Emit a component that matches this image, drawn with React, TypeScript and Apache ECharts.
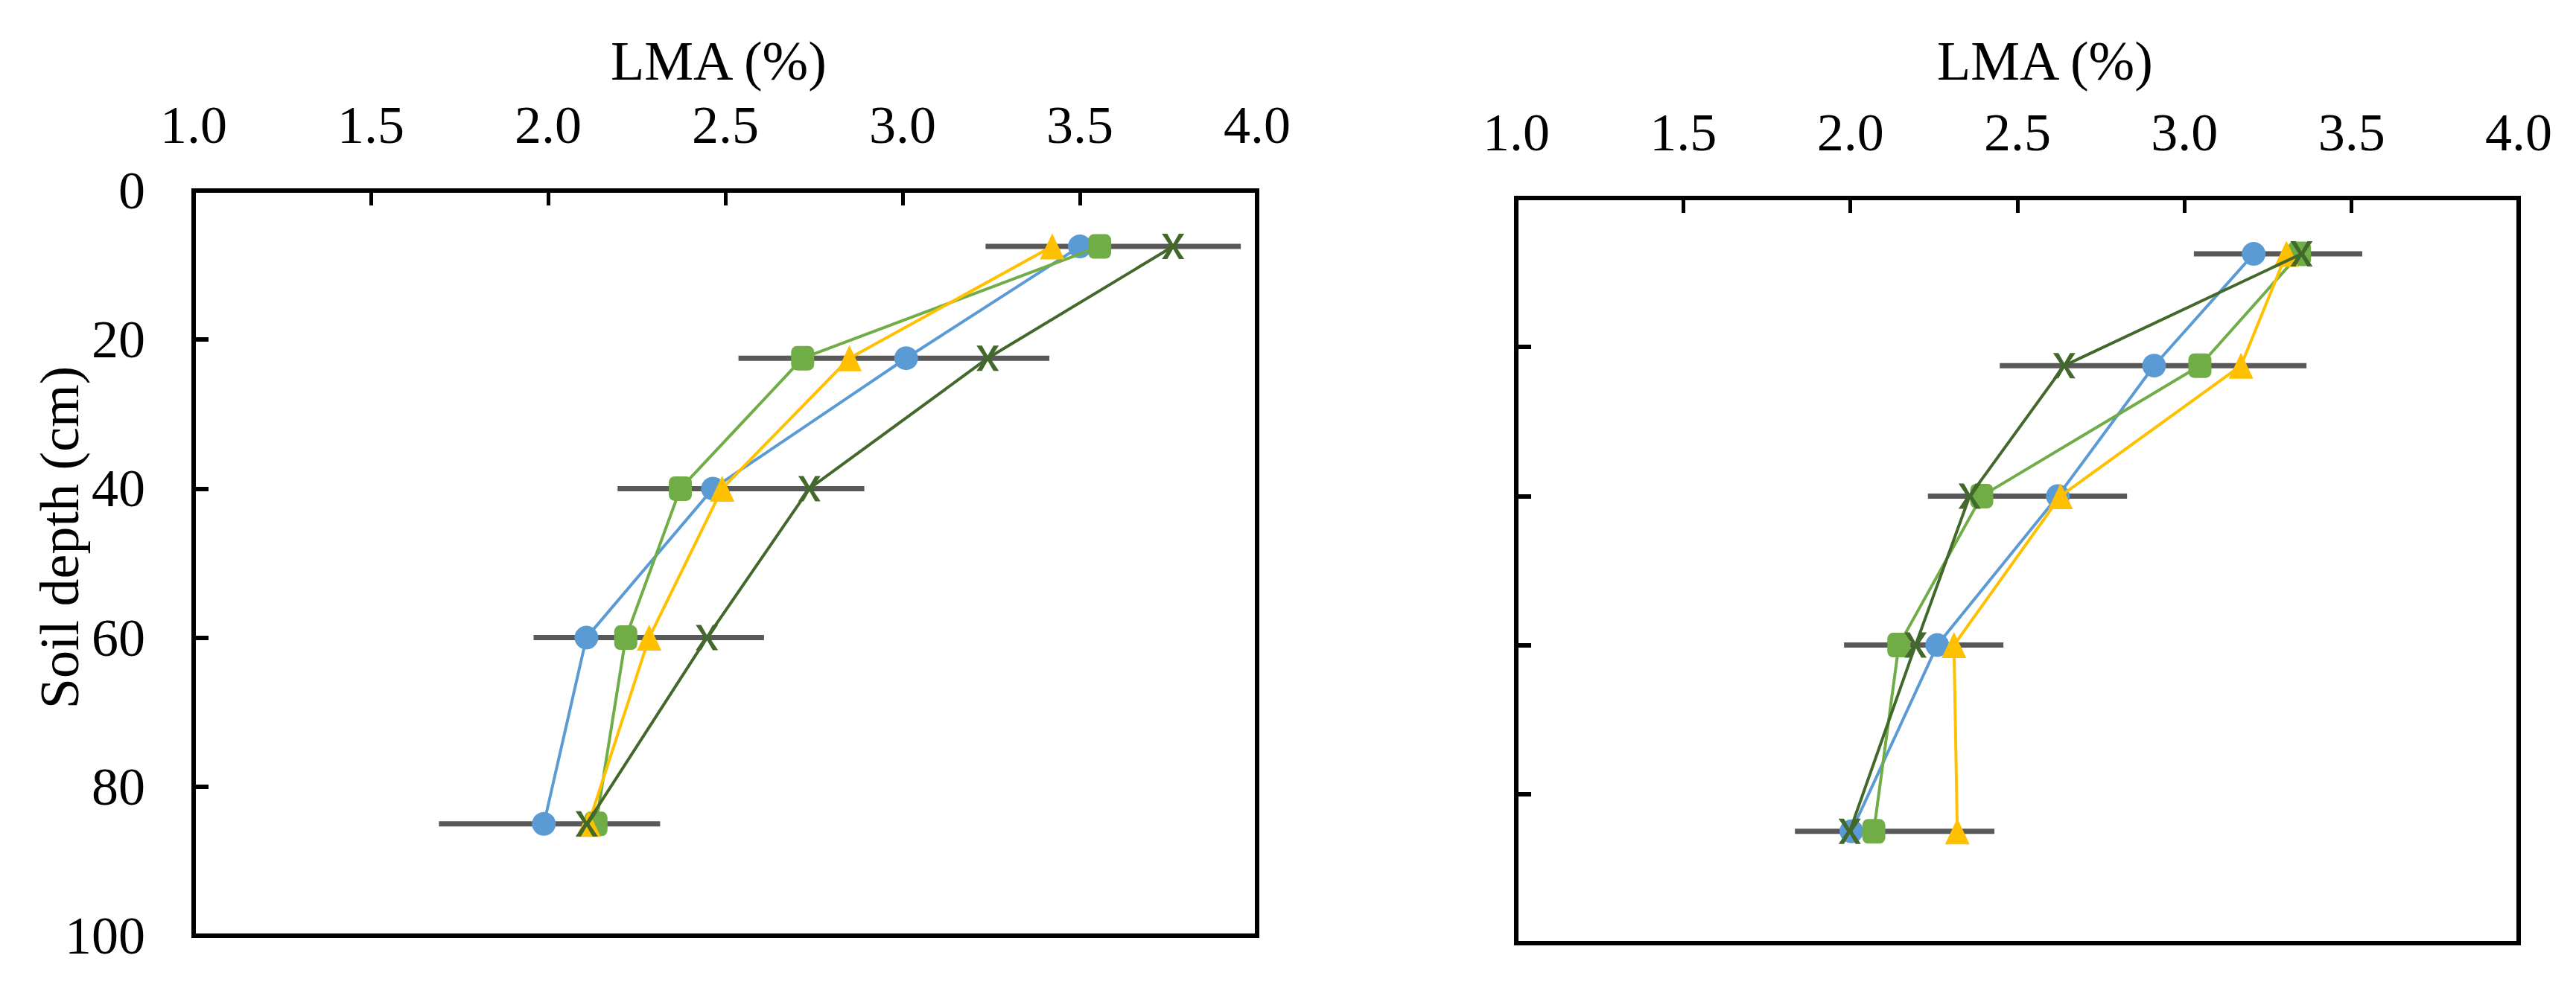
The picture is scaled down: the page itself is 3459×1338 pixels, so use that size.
import React, { useEffect, useRef } from "react";
import * as echarts from "echarts";

const FONT = '"Liberation Serif", "Times New Roman", Times, serif';

const depths = [7.5, 22.5, 40, 60, 85];
const xTickLabels = ["1.0", "1.5", "2.0", "2.5", "3.0", "3.5", "4.0"];
const yTickLabels = ["0", "20", "40", "60", "80", "100"];

// Left panel
const leftCircle = [3.5, 3.01, 2.465, 2.108, 1.988];
const leftSquare = [3.556, 2.718, 2.373, 2.219, 2.135];
const leftTriangle = [3.422, 2.85, 2.491, 2.285, 2.114];
const leftCross = [3.763, 3.24, 2.737, 2.448, 2.109];
const leftErrLow = [3.234, 2.537, 2.196, 1.959, 1.692];
const leftErrHigh = [3.954, 3.414, 2.892, 2.609, 2.316];

// Right panel
const rightCircle = [3.207, 2.909, 2.621, 2.26, 2.003];
const rightSquare = [3.344, 3.046, 2.393, 2.145, 2.07];
const rightTriangle = [3.305, 3.169, 2.629, 2.31, 2.32];
const rightCross = [3.35, 2.64, 2.357, 2.195, 1.998];
const rightErrLow = [3.028, 2.447, 2.232, 1.981, 1.834];
const rightErrHigh = [3.532, 3.365, 2.828, 2.458, 2.431];

const xTitle = "LMA (%)";
const yTitle = "Soil depth (cm)";

const BLUE = "#5B9BD5";
const GREEN = "#70AD47";
const YELLOW = "#FFC000";
const DARK = "#43682B";
const ERR = "#595959";

const CROSS =
  "path://M0,0 L2.4,0 L5,4 L7.6,0 L10,0 L6.2,5 L10,10 L7.6,10 L5,6 L2.4,10 L0,10 L3.8,5 Z";

function pairs(xs: number[]) {
  return xs.map((x, i) => [x, depths[i]]);
}

function errData(lo: number[], hi: number[]) {
  return lo.map((l, i) => [l, hi[i], depths[i]]);
}

function lineSeries(idx: number, xs: number[], color: string, symbol: string, size: any, z: number) {
  return {
    type: "line",
    xAxisIndex: idx,
    yAxisIndex: idx,
    data: pairs(xs),
    symbol,
    symbolSize: size,
    showSymbol: true,
    lineStyle: { color, width: 4 },
    itemStyle: { color, borderWidth: 0 },
    z,
    animation: false,
  };
}

function errSeries(idx: number, lo: number[], hi: number[]) {
  return {
    type: "custom",
    xAxisIndex: idx,
    yAxisIndex: idx,
    data: errData(lo, hi),
    encode: { x: [0, 1], y: 2 },
    z: 1,
    renderItem: (params: any, api: any) => {
      const p1 = api.coord([api.value(0), api.value(2)]);
      const p2 = api.coord([api.value(1), api.value(2)]);
      return {
        type: "line",
        shape: { x1: p1[0], y1: p1[1], x2: p2[0], y2: p2[1] },
        style: { stroke: ERR, lineWidth: 7 },
      };
    },
  };
}

function xAxis(idx: number) {
  return {
    gridIndex: idx,
    type: "value",
    position: "top",
    min: 1,
    max: 4,
    interval: 0.5,
    axisLine: { show: true, lineStyle: { color: "#000", width: 6 } },
    axisTick: { show: true, inside: true, length: 20, lineStyle: { color: "#000", width: 5 } },
    axisLabel: {
      fontSize: 72,
      color: "#000",
      fontFamily: FONT,
      margin: 52,
      formatter: (v: number) => xTickLabels[Math.round((v - 1) / 0.5)] ?? "",
    },
    splitLine: { show: false },
  };
}

function yAxis(idx: number, showLabels: boolean) {
  return {
    gridIndex: idx,
    type: "value",
    inverse: true,
    min: 0,
    max: 100,
    interval: 20,
    axisLine: { show: true, lineStyle: { color: "#000", width: 6 } },
    axisTick: { show: true, inside: true, length: 20, lineStyle: { color: "#000", width: 6 } },
    axisLabel: {
      show: showLabels,
      fontSize: 72,
      color: "#000",
      fontFamily: FONT,
      margin: 65,
      formatter: (v: number) => yTickLabels[Math.round(v / 20)] ?? "",
    },
    splitLine: { show: false },
  };
}

export default function App() {
  const ref = useRef<HTMLDivElement>(null);
  useEffect(() => {
    if (!ref.current) return;
    const chart = echarts.init(ref.current, null, { renderer: "svg" });
    const option: any = {
      animation: false,
      backgroundColor: "#fff",
      grid: [
        { left: 260, top: 256, width: 1428, height: 1001, show: true, borderColor: "#000", borderWidth: 6, backgroundColor: "transparent" },
        { left: 2036, top: 266, width: 1346, height: 1001, show: true, borderColor: "#000", borderWidth: 6, backgroundColor: "transparent" },
      ],
      xAxis: [xAxis(0), xAxis(1)],
      yAxis: [yAxis(0, true), yAxis(1, false)],
      graphic: [
        {
          type: "text",
          x: 965,
          y: 82,
          style: { text: xTitle, font: `74px ${FONT}`, fill: "#000", align: "center", verticalAlign: "middle" },
        },
        {
          type: "text",
          x: 2746,
          y: 82,
          style: { text: xTitle, font: `74px ${FONT}`, fill: "#000", align: "center", verticalAlign: "middle" },
        },
        {
          type: "text",
          x: 80,
          y: 722,
          rotation: Math.PI / 2,
          style: {
            text: yTitle,
            font: `74px ${FONT}`,
            fill: "#000",
            align: "center",
            verticalAlign: "middle",
          },
        },
      ],
      series: [
        errSeries(0, leftErrLow, leftErrHigh),
        lineSeries(0, leftCircle, BLUE, "circle", 32, 2),
        lineSeries(0, leftSquare, GREEN, "roundRect", [31, 33], 3),
        lineSeries(0, leftTriangle, YELLOW, "triangle", [33, 35], 4),
        lineSeries(0, leftCross, DARK, CROSS, [30, 34], 5),
        errSeries(1, rightErrLow, rightErrHigh),
        lineSeries(1, rightCircle, BLUE, "circle", 32, 2),
        lineSeries(1, rightSquare, GREEN, "roundRect", [31, 33], 3),
        lineSeries(1, rightTriangle, YELLOW, "triangle", [33, 35], 4),
        lineSeries(1, rightCross, DARK, CROSS, [30, 34], 5),
      ],
    };
    chart.setOption(option);
    return () => chart.dispose();
  }, []);
  return (
    <div
      ref={ref}
      style={{ position: "fixed", left: 0, top: 0, width: 3459, height: 1338, background: "#fff" }}
    />
  );
}
